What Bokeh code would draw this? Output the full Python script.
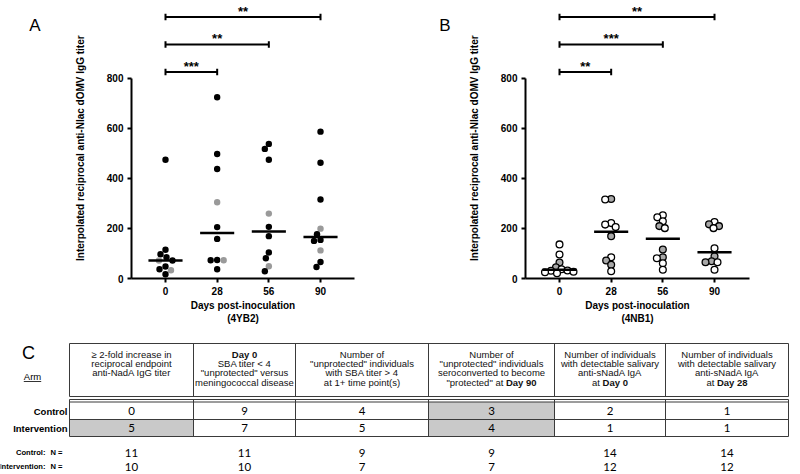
import numpy as np
from bokeh.plotting import figure
from bokeh.models import Range1d, FixedTicker, ColumnDataSource
from bokeh.layouts import column, row
from bokeh.embed import file_html
from bokeh.resources import INLINE
from bokeh.core.properties import value

# ---------------------------------------------------------------- data
DAYS = ["0", "28", "56", "90"]

# Panel A (4YB2): interpolated reciprocal titers per day (grey flag: 1 = grey dot)
A_DAY0 = [474, 115, 97, 85, 72, 72, 48, 37, 33, 17]
A_DAY28 = [723, 497, 437, 304, 205, 158, 74, 73, 73, 37]
A_DAY56 = [537, 517, 474, 259, 206, 169, 104, 81, 49, 29]
A_DAY90 = [586, 462, 315, 199, 177, 154, 150, 112, 66, 46]
A_GREY0 = [0, 0, 0, 0, 1, 0, 0, 0, 1, 0]
A_GREY28 = [0, 0, 0, 1, 0, 0, 0, 0, 1, 0]
A_GREY56 = [0, 0, 0, 1, 0, 0, 0, 0, 1, 0]
A_GREY90 = [0, 0, 0, 1, 0, 0, 0, 1, 0, 0]
A_COMPARISONS = [("0", "28", "***"), ("0", "56", "**"), ("0", "90", "**")]

# Panel B (4NB1)
B_DAY0 = [136, 96, 64, 45, 37, 32, 31, 27, 25, 21]
B_DAY28 = [317, 315, 221, 215, 205, 169, 85, 72, 55, 29]
B_DAY56 = [252, 244, 228, 209, 201, 116, 85, 81, 61, 35]
B_DAY90 = [225, 216, 209, 201, 121, 89, 69, 65, 65, 35]
B_GREY0 = [0, 0, 1, 1, 0, 0, 0, 0, 0, 0]
B_GREY28 = [1, 0, 0, 0, 0, 1, 0, 1, 1, 0]
B_GREY56 = [0, 0, 0, 1, 0, 1, 1, 0, 0, 0]
B_GREY90 = [0, 1, 1, 0, 0, 1, 1, 0, 1, 0]
B_COMPARISONS = [("0", "28", "**"), ("0", "56", "***"), ("0", "90", "**")]

Y_TICKS = [0, 200, 400, 600, 800]
Y_LABEL = "Interpolated reciprocal anti-Nlac dOMV IgG titer"

# Panel C table
ARMS = ["Control", "Intervention"]
HEADERS = [
    ["\u2265 2-fold increase in", "reciprocal endpoint", "anti-NadA IgG titer"],
    ["*Day 0*", "SBA titer < 4", "\"unprotected\" versus", "meningococcal disease"],
    ["Number of", "\"unprotected\" individuals", "with SBA titer > 4", "at 1+ time point(s)"],
    ["Number of", "\"unprotected\" individuals", "seroconverted to become", "\"protected\" at *Day 90*"],
    ["Number of individuals", "with detectable salivary", "anti-sNadA IgA", "at *Day 0*"],
    ["Number of individuals", "with detectable salivary", "anti-sNadA IgA", "at *Day 28*"],
]
CONTROL = [0, 9, 4, 3, 2, 1]
INTERVENTION = [5, 7, 5, 4, 1, 1]
HIGHLIGHT_CONTROL = [0, 0, 0, 1, 0, 0]
HIGHLIGHT_INTERVENTION = [1, 0, 0, 1, 0, 0]
N_CONTROL = [11, 11, 9, 9, 14, 14]
N_INTERVENTION = [10, 10, 7, 7, 12, 12]

# ---------------------------------------------------------------- style
FONT = "Liberation Sans"
NUMFONT = "Lato"
SY = 200.5 / 800.0   # px per titer unit
SX = 51.67           # px per day category
PH, PTOP, PBOT = 335, 0, 57
TOP_H = PH


def swarm(vals, diam):
    order = sorted(range(len(vals)), key=lambda i: -vals[i])
    cands = sorted(np.arange(-30, 30.01, 0.5), key=lambda c: (abs(c), c))
    placed, offs = [], [0.0] * len(vals)
    for i in order:
        yp = vals[i] * SY
        chosen = 0.0
        for c in cands:
            if all((c - px) ** 2 + (yp - py) ** 2 >= diam ** 2 for px, py in placed):
                chosen = c
                break
        placed.append((chosen, yp))
        offs[i] = chosen / SX
    return offs


def side_panel(x_left, width, letter, letter_x, label_x):
    s = figure(width=width, height=TOP_H, x_range=Range1d(x_left, x_left + width),
               y_range=Range1d(TOP_H, 0), output_backend="svg", toolbar_location=None,
               min_border=0, x_axis_location=None, y_axis_location=None)
    s.outline_line_color = None
    s.xgrid.visible = False
    s.ygrid.visible = False
    s.text(x=[letter_x], y=[30], text=[letter], text_font=value(FONT), text_font_size="17px",
           text_align="center", text_baseline="middle", text_color="black")
    s.text(x=[label_x], y=[178], text=[Y_LABEL], angle=np.pi / 2, text_font=value(FONT),
           text_font_style="bold", text_font_size="10px", text_align="center",
           text_baseline="middle", text_color="black")
    return s


def make_panel(groups, greys, comps, xlabel, width, left, right, open_markers):
    fw, fh = width - left - right, PH - PTOP - PBOT
    x0 = -34.0 / SX
    x1 = x0 + fw / SX
    y1 = fh / SY
    p = figure(width=width, height=PH, x_range=Range1d(x0, x1), y_range=Range1d(0, y1),
               output_backend="svg", toolbar_location=None,
               min_border_left=left, min_border_right=right,
               min_border_top=PTOP, min_border_bottom=PBOT)
    p.outline_line_color = None
    p.xgrid.visible = False
    p.ygrid.visible = False

    for ax in (p.xaxis[0], p.yaxis[0]):
        ax.axis_line_width = 2
        ax.axis_line_color = "black"
        ax.major_tick_line_width = 2
        ax.major_tick_line_color = "black"
        ax.major_tick_out = 4
        ax.major_tick_in = 0
        ax.minor_tick_line_color = None
        ax.major_label_text_font = FONT
        ax.major_label_text_font_style = "bold"
        ax.major_label_text_font_size = "10px"
        ax.major_label_text_color = "black"
        ax.axis_label_text_font = FONT
        ax.axis_label_text_font_style = "bold"
        ax.axis_label_text_font_size = "10px"
        ax.axis_label_text_color = "black"
    p.yaxis.bounds = (Y_TICKS[0], Y_TICKS[-1])
    p.yaxis.ticker = FixedTicker(ticks=Y_TICKS)
    p.yaxis.major_label_standoff = 4
    p.xaxis.ticker = FixedTicker(ticks=list(range(len(DAYS))))
    p.xaxis.major_label_overrides = {i: d for i, d in enumerate(DAYS)}
    p.xaxis.major_label_standoff = 4
    p.xaxis.axis_label = xlabel
    p.xaxis.axis_label_standoff = 2

    xs, ys, fills = [], [], []
    diam = 5.8 if open_markers else 6.4
    for gi, (vals, grey) in enumerate(zip(groups, greys)):
        offs = swarm(vals, diam)
        for v, g, o in zip(vals, grey, offs):
            xs.append(gi + o)
            ys.append(v)
            if open_markers:
                fills.append("#a8a8a8" if g else "white")
            else:
                fills.append("#9a9a9a" if g else "black")
    src = ColumnDataSource(dict(x=xs, y=ys, fill=fills))
    if open_markers:
        p.scatter("x", "y", source=src, size=6.8, fill_color="fill",
                  line_color="black", line_width=1.3)
    else:
        p.scatter("x", "y", source=src, size=6.4, fill_color="fill", line_color=None)

    medians = [float(np.median(v)) for v in groups]
    gx = list(range(len(groups)))
    p.segment(x0=[g - 0.33 for g in gx], y0=medians, x1=[g + 0.33 for g in gx], y1=medians,
              line_width=2.5, line_color="black")

    idx = {d: i for i, d in enumerate(DAYS)}
    lv = [Y_TICKS[-1] + (6 + 27.5 * k) / SY for k in range(len(comps))]
    bx0 = [idx[a] for a, b, s in comps]
    bx1 = [idx[b] for a, b, s in comps]
    p.segment(x0=bx0, y0=lv, x1=bx1, y1=lv, line_width=2, line_color="black")
    cap = 3.2 / SY
    p.segment(x0=bx0 + bx1, y0=[l - cap for l in lv] * 2, x1=bx0 + bx1,
              y1=[l + cap for l in lv] * 2, line_width=2, line_color="black")
    p.text(x=[(a + b) / 2 for a, b in zip(bx0, bx1)], y=[l + 6 / SY for l in lv],
           text=[s for a, b, s in comps], text_font=value(FONT), text_font_style="bold",
           text_font_size="13px", text_align="center", text_baseline="middle",
           text_color="black")
    return p


sA = side_panel(8, 102, "A", 42.5, 88)
pA = make_panel([A_DAY0, A_DAY28, A_DAY56, A_DAY90], [A_GREY0, A_GREY28, A_GREY56, A_GREY90],
                A_COMPARISONS, "Days post-inoculation\n(4YB2)", 290, 29, 38, False)
sB = side_panel(400, 105, "B", 452.5, 482)
pB = make_panel([B_DAY0, B_DAY28, B_DAY56, B_DAY90], [B_GREY0, B_GREY28, B_GREY56, B_GREY90],
                B_COMPARISONS, "Days post-inoculation\n(4NB1)", 287, 28, 35, True)

# ---------------------------------------------------------------- table (page pixel coords)
REG_W = {}
for chars, w in [("ijl", 222), (" ,./:;!Itf", 278), ("r-()", 333), ("\"", 355),
                 ("cksvxyz", 500), ("abdeghnopqu0123456789L", 556), ("<>=+", 584),
                 ("FTZ", 611), ("ABEKPSVXY", 667), ("CDHNRUw", 722), ("GOQ", 778),
                 ("mM", 833)]:
    for ch in chars:
        REG_W[ch] = w
BOLD_W = dict(REG_W)
BOLD_W.update({"t": 333, "r": 389, "y": 556, "D": 722, "a": 556, "\"": 474})


def text_w(s, size, bold):
    tbl = BOLD_W if bold else REG_W
    return sum(tbl.get(ch, 556) for ch in s) * size / 1000.0


T_TOP, T_BOT = TOP_H, 474
T = figure(width=792, height=T_BOT - T_TOP, x_range=Range1d(8, 800),
           y_range=Range1d(T_BOT, T_TOP), output_backend="svg", toolbar_location=None,
           min_border=0, x_axis_location=None, y_axis_location=None)
T.outline_line_color = None
T.xgrid.visible = False
T.ygrid.visible = False

EDGES = [77, 201, 303, 436, 562, 673, 796]
CENT = [(a + b) / 2 for a, b in zip(EDGES[:-1], EDGES[1:])]
H_TOP, H_BOT = 343, 396
D_TOP1, D_TOP2, D_MID, D_BOT = 399, 401.5, 419, 436
ROW_Y = [410.5, 427.5]
N_Y = [452, 466]
LC = "#3a3a3a"
HS = 9.5

# highlighted cells
ql, qr, qt, qb = [], [], [], []
for ci in range(len(CENT)):
    if HIGHLIGHT_CONTROL[ci]:
        ql.append(EDGES[ci]); qr.append(EDGES[ci + 1]); qt.append(D_TOP2); qb.append(D_MID)
    if HIGHLIGHT_INTERVENTION[ci]:
        ql.append(EDGES[ci]); qr.append(EDGES[ci + 1]); qt.append(D_MID); qb.append(D_BOT)
T.quad(left=ql, right=qr, top=qt, bottom=qb, fill_color="#c9c9c9", line_color=None)

# header box
T.quad(left=[EDGES[0]], right=[EDGES[-1]], top=[H_TOP], bottom=[H_BOT], fill_color=None,
       line_color=LC, line_width=1)
T.segment(x0=EDGES[1:-1], y0=[H_TOP] * 5, x1=EDGES[1:-1], y1=[H_BOT] * 5, line_color=LC,
          line_width=1)
# data box
hy = [D_TOP1, D_TOP2, D_MID, D_BOT]
T.segment(x0=[EDGES[0]] * 4, y0=hy, x1=[EDGES[-1]] * 4, y1=hy, line_color=LC, line_width=1)
T.segment(x0=EDGES, y0=[D_TOP1] * len(EDGES), x1=EDGES, y1=[D_BOT] * len(EDGES),
          line_color=LC, line_width=1)

# header texts
cx, cy, ct, cst, cal = [], [], [], [], []
for ci, lines in enumerate(HEADERS):
    for li, line in enumerate(lines):
        yy = 354 + 9.2 * li
        parts = line.split("*")
        segs = [(t, k % 2 == 1) for k, t in enumerate(parts) if t]
        if len(segs) == 1:
            cx.append(CENT[ci]); cy.append(yy); ct.append(segs[0][0])
            cst.append("bold" if segs[0][1] else "normal"); cal.append("center")
        else:
            total = sum(text_w(t, HS, b) for t, b in segs)
            start = CENT[ci] - total / 2
            for t, b in segs:
                cx.append(start); cy.append(yy); ct.append(t)
                cst.append("bold" if b else "normal"); cal.append("left")
                start += text_w(t, HS, b)
T.text(x="x", y="y", text="t", text_font_style="st", text_align="al",
       source=ColumnDataSource(dict(x=cx, y=cy, t=ct, st=cst, al=cal)),
       text_font=value(FONT), text_font_size=f"{HS}px", text_baseline="middle",
       text_color="#111111")

# row labels
T.text(x=[75, 75], y=ROW_Y, text=ARMS, text_font=value(FONT), text_font_style="bold",
       text_font_size="9.5px", text_align="right", text_baseline="middle", text_color="black")

# values
T.text(x=CENT * 2, y=[ROW_Y[0]] * 6 + [ROW_Y[1]] * 6,
       text=[str(v) for v in CONTROL] + [str(v) for v in INTERVENTION],
       text_font=value(NUMFONT), text_font_size="11.5px",
       text_align="center", text_baseline="middle", text_color="black")

# N rows
T.text(x=[53, 53], y=N_Y, text=[a + ":" for a in ARMS], text_font=value(FONT),
       text_font_style="bold", text_font_size="7.6px", text_align="right",
       text_baseline="middle", text_color="black")
T.text(x=[58, 58], y=N_Y, text=["N =", "N ="], text_font=value(FONT), text_font_style="bold",
       text_font_size="7.6px", text_align="left", text_baseline="middle", text_color="black")
T.text(x=CENT * 2, y=[N_Y[0]] * 6 + [N_Y[1]] * 6,
       text=[str(v) for v in N_CONTROL] + [str(v) for v in N_INTERVENTION],
       text_font=value(NUMFONT), text_font_size="11.5px", text_align="center",
       text_baseline="middle", text_color="black")

# panel letter and Arm
T.text(x=[36], y=[352], text=["C"], text_font=value(FONT), text_font_size="18px",
       text_align="center", text_baseline="middle", text_color="black")
T.text(x=[40], y=[376], text=["Arm"], text_font=value(FONT), text_font_size="9.5px",
       text_align="center", text_baseline="middle", text_color="black")
aw = text_w("Arm", 9.5, False)
T.segment(x0=[40 - aw / 2], y0=[381], x1=[40 + aw / 2], y1=[381], line_color="black",
          line_width=0.8)

layout = column(row(sA, pA, sB, pB), T)
open("out.html", "w").write(file_html(layout, INLINE))
